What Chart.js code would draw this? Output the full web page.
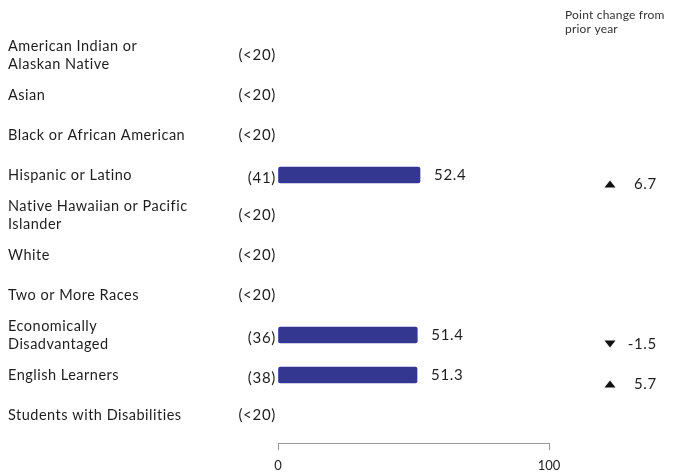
<!DOCTYPE html>
<html>
<head>
<meta charset="utf-8">
<script src="https://cdn.jsdelivr.net/npm/chart.js@4.4.0/dist/chart.umd.min.js"></script>
<style>
  html, body { margin: 0; padding: 0; background: #fff; }
  #wrap { position: relative; width: 679px; height: 474px; }
</style>
</head>
<body>
<div id="wrap"><canvas id="groups"></canvas></div>
<script>
// data
const groups = [
    ['American Indian or', 'Alaskan Native'],
    ['Asian'],
    ['Black or African American'],
    ['Hispanic or Latino'],
    ['Native Hawaiian or Pacific', 'Islander'],
    ['White'],
    ['Two or More Races'],
    ['Economically', 'Disadvantaged'],
    ['English Learners'],
    ['Students with Disabilities']
];
const counts = ['(<20)', '(<20)', '(<20)', '(41)', '(<20)', '(<20)', '(<20)', '(36)', '(38)', '(<20)'];
const scores = [null, null, null, 52.4, null, null, null, 51.4, 51.3, null];
const changes = [null, null, null, 6.7, null, null, null, -1.5, 5.7, null];
const xTicks = [0, 100];

const FONT = 'Lato, "Noto Sans", sans-serif';

// draws the left labels, counts, values and point change column
const labelPlugin = {
    id: 'rowLabels',
    afterDatasetsDraw(chart) {
        const ctx = chart.ctx;
        const y = chart.scales.y;
        const area = chart.chartArea;
        const meta = chart.getDatasetMeta(0);
        ctx.save();
        ctx.textBaseline = 'middle';

        // header
        ctx.fillStyle = '#333';
        ctx.font = '12px ' + FONT;
        ctx.letterSpacing = '0.2px';
        ctx.textAlign = 'left';
        ctx.fillText('Point change from', 565, 15);
        ctx.fillText('prior year', 565, 29);

        groups.forEach((lines, i) => {
            const cy = y.getPixelForValue(i);
            ctx.fillStyle = '#1e1e1e';
            ctx.font = '14.5px ' + FONT;
            ctx.letterSpacing = '0.5px';
            ctx.textAlign = 'left';
            const lh = 18;
            const top = cy - (lines.length - 1) * lh / 2;
            lines.forEach((t, k) => ctx.fillText(t, 8, top + k * lh));

            ctx.font = '15px ' + FONT;
            ctx.letterSpacing = '0.7px';
            ctx.textAlign = 'right';
            ctx.fillText(counts[i], area.left - 2, cy + (scores[i] != null ? 3 : 0));

            if (scores[i] != null) {
                const bar = meta.data[i];
                ctx.textAlign = 'left';
                ctx.fillText(scores[i].toFixed(1), bar.x + 14, cy);
            }

            if (changes[i] != null) {
                const ay = cy + 9;
                const ax = 610;
                ctx.fillStyle = '#111';
                ctx.beginPath();
                if (changes[i] >= 0) {
                    ctx.moveTo(ax - 5.5, ay + 3.5);
                    ctx.lineTo(ax + 5.5, ay + 3.5);
                    ctx.lineTo(ax, ay - 3.5);
                } else {
                    ctx.moveTo(ax - 5.5, ay - 3.5);
                    ctx.lineTo(ax + 5.5, ay - 3.5);
                    ctx.lineTo(ax, ay + 3.5);
                }
                ctx.closePath();
                ctx.fill();
                ctx.fillStyle = '#1e1e1e';
                ctx.textAlign = 'right';
                ctx.fillText(changes[i].toFixed(1), 657, ay);
            }
        });
        ctx.restore();
    }
};

new Chart(document.getElementById('groups'), {
    type: 'bar',
    data: {
        labels: groups,
        datasets: [{
            data: scores,
            backgroundColor: '#34378f',
            borderRadius: 2,
            borderSkipped: false,
            barThickness: 16
        }]
    },
    options: {
        indexAxis: 'y',
        responsive: true,
        maintainAspectRatio: false,
        animation: false,
        layout: { padding: { left: 278, right: 130, top: 35, bottom: 39 } },
        plugins: {
            legend: { display: false },
            tooltip: { enabled: false }
        },
        scales: {
            y: { display: false },
            x: {
                min: 0,
                max: 100,
                position: { y: 9.7 },
                afterBuildTicks: (scale) => { scale.ticks = xTicks.map(v => ({ value: v })); },
                grid: { drawOnChartArea: false, drawTicks: true, tickLength: 6, color: '#999' },
                border: { display: true, color: '#999' },
                ticks: {
                    padding: 9,
                    color: '#1e1e1e',
                    font: { family: FONT, size: 13 }
                }
            }
        }
    },
    plugins: [labelPlugin]
});
</script>
</body>
</html>
